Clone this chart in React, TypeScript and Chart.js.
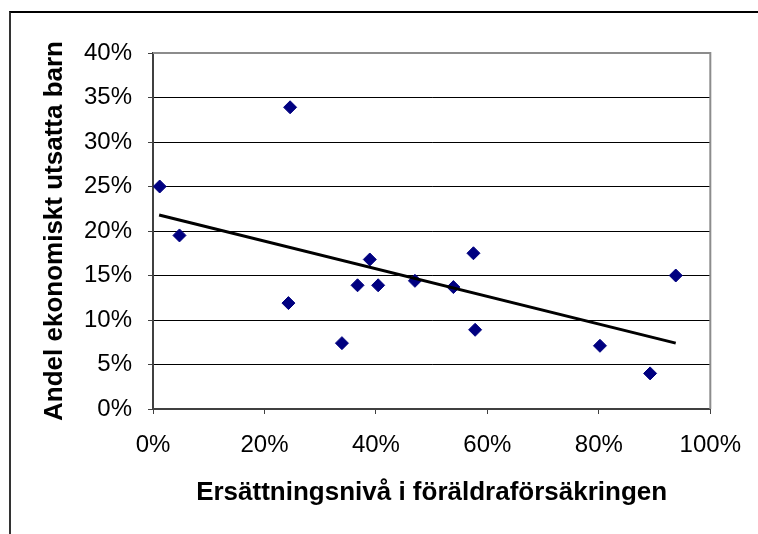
import React, { useEffect, useRef } from "react";
import { Chart, registerables } from "chart.js";

Chart.register(...registerables);

// Ersättningsnivå i föräldraförsäkringen (%)
const xValues = [1.2, 4.75, 24.6, 24.3, 33.9, 36.7, 38.9, 40.4, 47.0, 53.9, 57.5, 57.8, 80.2, 89.2, 93.8];
// Andel ekonomiskt utsatta barn (%)
const yValues = [25.0, 19.5, 33.9, 11.9, 7.4, 13.9, 16.8, 13.9, 14.4, 13.7, 17.5, 8.9, 7.1, 4.0, 15.0];
// Linear trendline end points
const trendX = [1.1, 93.8];
const trendY = [21.8, 7.4];

const xTitle = "Ersättningsnivå i föräldraförsäkringen";
const yTitle = "Andel ekonomiskt utsatta barn";

const FONT = "Arial, 'Liberation Sans', sans-serif";

const plotBorder = {
  id: "plotBorder",
  afterDraw(chart: any) {
    const { ctx, chartArea } = chart;
    ctx.save();
    ctx.strokeStyle = "#8c8c8c";
    ctx.lineWidth = 2;
    ctx.beginPath();
    ctx.moveTo(chartArea.left, chartArea.top);
    ctx.lineTo(chartArea.right, chartArea.top);
    ctx.lineTo(chartArea.right, chartArea.bottom);
    ctx.stroke();
    ctx.restore();
  },
};

export default function App() {
  const ref = useRef<HTMLCanvasElement | null>(null);

  useEffect(() => {
    if (!ref.current) return;
    const points = xValues.map((x, i) => ({ x, y: yValues[i] }));
    const trend = trendX.map((x, i) => ({ x, y: trendY[i] }));
    const chart = new Chart(ref.current, {
      type: "scatter",
      data: {
        datasets: [
          {
            label: "trend",
            data: trend,
            showLine: true,
            borderColor: "#000000",
            borderWidth: 3,
            pointRadius: 0,
            pointHoverRadius: 0,
            fill: false,
          } as any,
          {
            label: "data",
            data: points,
            pointStyle: "rectRot",
            pointRadius: 6.5,
            pointHoverRadius: 6.5,
            backgroundColor: "#000080",
            borderColor: "#000080",
            borderWidth: 1,
          },
        ],
      },
      options: {
        responsive: false,
        animation: false,
        events: [],
        layout: { padding: { top: 40, right: 43, left: 0, bottom: 0 } },
        plugins: {
          legend: { display: false },
          tooltip: { enabled: false },
        },
        scales: {
          x: {
            type: "linear",
            min: 0,
            max: 100,
            afterFit(scale: any) {
              scale.height = 125;
            },
            ticks: {
              stepSize: 20,
              padding: 17,
              color: "#000",
              font: { family: FONT, size: 24 },
              callback: (v: any) => v + "%",
            },
            grid: {
              drawOnChartArea: false,
              drawTicks: true,
              tickLength: 5,
              tickColor: "#404040",
              tickWidth: 1,
            },
            border: { display: true, color: "#404040", width: 2 },
            title: {
              display: true,
              text: xTitle,
              color: "#000",
              font: { family: FONT, size: 26, weight: "bold" },
              padding: { top: 0, bottom: 26 },
            },
          },
          y: {
            type: "linear",
            min: 0,
            max: 40,
            afterFit(scale: any) {
              scale.width = 142;
            },
            ticks: {
              stepSize: 5,
              padding: 16,
              color: "#000",
              font: { family: FONT, size: 24 },
              callback: (v: any) => v + "%",
            },
            grid: {
              color: (c: any) =>
                c.tick && (c.tick.value === 0 || c.tick.value === 40) ? "rgba(0,0,0,0)" : "#000000",
              lineWidth: 1,
              drawTicks: true,
              tickLength: 5,
              tickColor: "#404040",
              tickWidth: 1,
            },
            border: { display: true, color: "#404040", width: 2 },
            title: {
              display: true,
              text: yTitle,
              color: "#000",
              font: { family: FONT, size: 26, weight: "bold" },
              padding: { top: 28, bottom: 0 },
            },
          },
        },
      },
      plugins: [plotBorder],
    });
    return () => chart.destroy();
  }, []);

  return (
    <div
      style={{
        position: "absolute",
        left: 9,
        top: 11,
        width: 749,
        height: 523,
        boxSizing: "border-box",
        borderLeft: "2px solid #333",
        borderTop: "2px solid #000",
        overflow: "hidden",
        background: "#fff",
      }}
    >
      <canvas ref={ref} width={747} height={521} style={{ display: "block" }} />
    </div>
  );
}
